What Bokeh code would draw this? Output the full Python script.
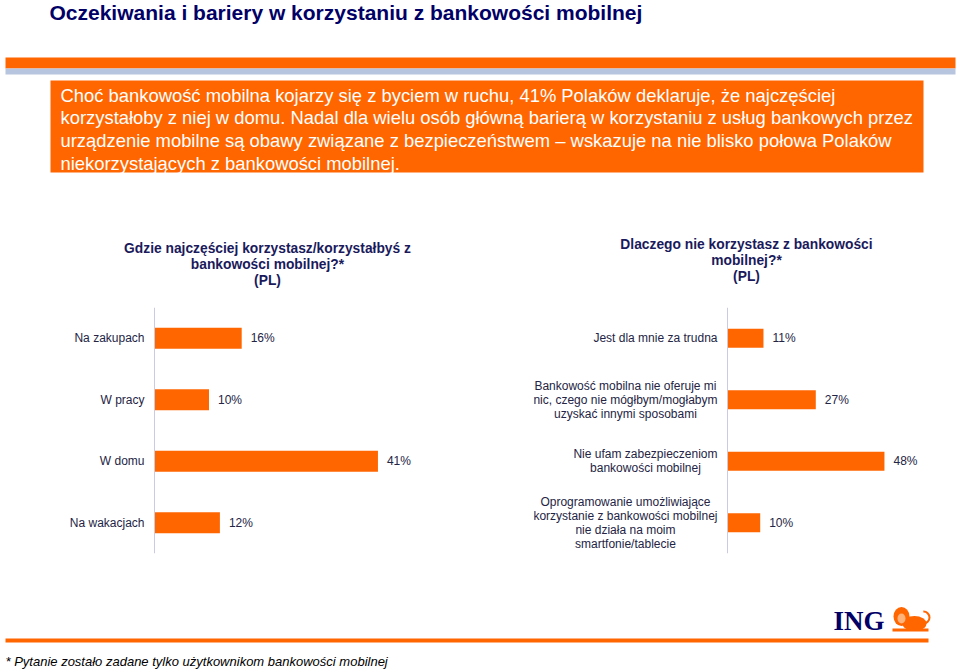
from bokeh.plotting import figure
from bokeh.layouts import column, row
from bokeh.models import Range1d, FactorRange, ColumnDataSource, Span
from bokeh.core.properties import value
from bokeh.embed import file_html
from bokeh.resources import INLINE

# ---------------- data ----------------
title_text = "Oczekiwania i bariery w korzystaniu z bankowości mobilnej"
summary_lines = [
    "Choć bankowość mobilna kojarzy się z byciem w ruchu, 41% Polaków deklaruje, że najczęściej",
    "korzystałoby z niej w domu. Nadal dla wielu osób główną barierą w korzystaniu z usług bankowych przez",
    "urządzenie mobilne są obawy związane z bezpieczeństwem – wskazuje na nie blisko połowa Polaków",
    "niekorzystających z bankowości mobilnej.",
]
left_title = "Gdzie najczęściej korzystasz/korzystałbyś z\nbankowości mobilnej?*\n(PL)"
right_title = "Dlaczego nie korzystasz z bankowości\nmobilnej?*\n(PL)"

left_categories = ["Na zakupach", "W pracy", "W domu", "Na wakacjach"]
left_values = [16, 10, 41, 12]

right_categories = [
    "Jest dla mnie za trudna",
    "Bankowość mobilna nie oferuje mi\nnic, czego nie mógłbym/mogłabym\nuzyskać innymi sposobami",
    "Nie ufam zabezpieczeniom\nbankowości mobilnej",
    "Oprogramowanie umożliwiające\nkorzystanie z bankowości mobilnej\nnie działa na moim\nsmartfonie/tablecie",
]
right_values = [11, 27, 48, 10]

footnote = "* Pytanie zostało zadane tylko użytkownikom bankowości mobilnej"
logo_text = "ING"

# ---------------- style ----------------
ORANGE = "#FF6600"
NAVY = "#000066"
TITLE_NAVY = "#1a1a5c"
LABEL = "#242444"
FONT = value("Liberation Sans")

W = 960
HEADER_H = 292
CHART_H = 300
FOOTER_H = 78


def bare(p):
    p.grid.visible = False
    p.outline_line_color = None
    p.background_fill_color = "white"
    p.border_fill_color = "white"
    return p


# ---------------- header ----------------
hdr = figure(width=W, height=HEADER_H, x_range=Range1d(0, W), y_range=Range1d(HEADER_H, 0),
             toolbar_location=None, output_backend="svg", min_border=0,
             x_axis_location=None, y_axis_location=None, title=None)
bare(hdr)
hdr.text(x=[49], y=[12], text=[title_text], text_font=FONT, text_font_style="bold",
         text_font_size="21px", text_color=NAVY, text_baseline="middle")
hdr.quad(left=[5], right=[955], top=[57], bottom=[68], fill_color=ORANGE, line_color=None)
hdr.quad(left=[5], right=[955], top=[68], bottom=[74], fill_color="#b8c5de", line_color=None)
hdr.quad(left=[50], right=[923], top=[80], bottom=[172], fill_color=ORANGE, line_color=None)
hdr.text(x=[60], y=[84], text=["\n".join(summary_lines)], text_font=FONT,
         text_font_size="18.4px", text_color="white", text_baseline="top",
         text_line_height=1.09)
hdr.text(x=[267, 746], y=[240, 236], text=[left_title, right_title], text_font=FONT,
         text_font_style="bold", text_font_size="13.8px", text_color=TITLE_NAVY,
         text_align="center", text_baseline="top", text_line_height=1.09)


# ---------------- charts ----------------
def bar_chart(cats, vals, width, axis_px, px_per_pct, border_top, bar_h):
    src = ColumnDataSource(dict(cat=cats, val=vals, lab=[f"{v}%" for v in vals]))
    frame_h = 259
    p = figure(width=width, height=CHART_H,
               x_range=Range1d(-axis_px / px_per_pct, (width - axis_px) / px_per_pct),
               y_range=FactorRange(factors=list(reversed(cats))),
               toolbar_location=None, output_backend="svg",
               min_border_left=0, min_border_right=0,
               min_border_top=border_top, min_border_bottom=CHART_H - border_top - frame_h,
               x_axis_location=None, y_axis_location=None, title=None)
    bare(p)
    p.hbar(y="cat", left=0, right="val", height=bar_h, source=src,
           fill_color=ORANGE, line_color=None)
    p.add_layout(Span(location=0, dimension="height", line_color="#c9cce0", line_width=1))
    p.text(x="val", y="cat", text="lab", source=src, x_offset=9, text_font=FONT,
           text_font_size="12px", text_color=LABEL, text_baseline="middle")
    p.text(x=0, y="cat", text="cat", source=src, x_offset=-10, text_font=FONT,
           text_font_size="12px", text_color=LABEL, text_align="center",
           text_baseline="middle", anchor=value("center_right"), text_line_height=0.99)
    return p


left = bar_chart(left_categories, left_values, 478, 154, 5.45, 15, 0.34)
right = bar_chart(right_categories, right_values, 482, 249, 3.27, 2, 0.31)

# ---------------- footer ----------------
ftr = figure(width=W, height=FOOTER_H, x_range=Range1d(0, W), y_range=Range1d(FOOTER_H, 0),
             toolbar_location=None, output_backend="svg", min_border=0,
             x_axis_location=None, y_axis_location=None, title=None)
bare(ftr)
ftr.quad(left=[5], right=[928], top=[46], bottom=[50], fill_color=ORANGE, line_color=None)
ftr.text(x=[833], y=[28], text=[logo_text], text_font=value("Liberation Serif"),
         text_font_style="bold", text_font_size="27px", text_color=NAVY,
         text_baseline="middle")
# stylised lion
ftr.ellipse(x=[914], y=[31], width=[24], height=[15], fill_color=ORANGE, line_color=None)
ftr.ellipse(x=[901], y=[24], width=[16], height=[19], fill_color=ORANGE, line_color=None)
ftr.ellipse(x=[901], y=[26], width=[8], height=[10], fill_color="#ffb27a", line_color=None)
ftr.arc(x=[923], y=[25], radius=6, start_angle=-1.6, end_angle=1.6,
        line_color=ORANGE, line_width=2)
ftr.quad(left=[892], right=[928], top=[36], bottom=[39], fill_color=ORANGE, line_color=None)
ftr.text(x=[5], y=[69], text=[footnote], text_font=FONT, text_font_style="italic",
         text_font_size="13px", text_color="black", text_baseline="middle")

layout = column(hdr, row(left, right, spacing=0), ftr, spacing=0)
open("out.html", "w").write(file_html(layout, INLINE))
